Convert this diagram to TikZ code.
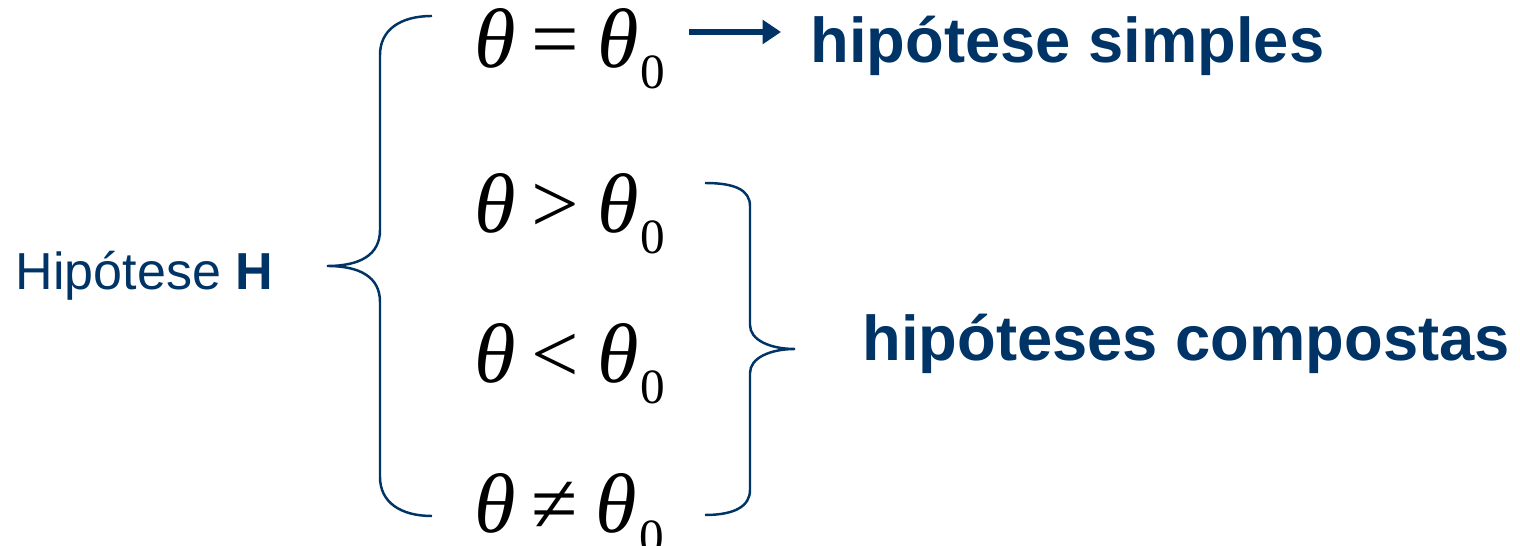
\documentclass[tikz,border=0pt]{standalone}
\usepackage{fontspec}
\setmainfont{Liberation Serif}
\newfontfamily\rotulo{Liberation Sans}
\usetikzlibrary{arrows.meta}
\definecolor{azulesc}{RGB}{0,51,102}

\begin{document}
\begin{tikzpicture}[
    x=0.01cm, y=-0.01cm,
    % --- Styles ---
    eq node/.style={font=\fontsize{24}{28}\selectfont, text=black, inner sep=0pt, anchor=base west},
    % Bold blue labels on the right
    tipo node/.style={font=\rotulo\bfseries\fontsize{18}{22}\selectfont, text=azulesc, inner sep=0pt, anchor=base west},
    main node/.style={font=\rotulo\fontsize{14.8}{18}\selectfont, text=azulesc, inner sep=0pt, anchor=base west},
    chave line/.style={draw=azulesc, line width=0.7pt},
    seta line/.style={draw=azulesc, line width=1.6pt, -{Triangle[length=5.2pt,width=6.6pt]}}
]

%================CONFIGURATION================
% \xeq: left edge of the four hypotheses
\def\xeq{474}
\newcommand{\tth}{\textit{θ}}
\newcommand{\zsub}{\kern0.5pt\raisebox{-5.7pt}{\fontsize{14}{16}\selectfont 0}}
%=============================================

\useasboundingbox (0,0) rectangle (1520,546);

% Hypotheses, one row each (relation / baseline)
\foreach \rel/\yb [count=\c] in {=/68, >/233, </383, ≠/533} {
    \node[eq node] (eq\c) at (\xeq,\yb) {\tth\kern4.5pt\rel\kern5pt\tth\zsub};
}

% Labels
\node[main node] (hip) at (15,290) {Hipótese \textbf{H}};
\node[tipo node] (simples) at (810,63) {hipótese simples};
\node[tipo node] (compostas) at (862,361) {hipóteses compostas};

% Arrow to the simple hypothesis
\coordinate (s0) at (689,32);
\coordinate (s1) at (781,32);
\draw[seta line] (s0) -- (s1);

% Left brace
\draw[chave line] (432,16) .. controls (400,16) and (380,30) .. (380,55)
    -- (380,230) .. controls (380,255) and (360,266) .. (327,266)
    .. controls (360,266) and (380,277) .. (380,302)
    -- (380,477) .. controls (380,502) and (400,516) .. (432,516);

% Right brace
\draw[chave line] (705,183) .. controls (735,183) and (750,190) .. (750,206)
    -- (750,325) .. controls (750,340) and (770,349) .. (795,349)
    .. controls (770,349) and (750,358) .. (750,373)
    -- (750,490) .. controls (750,506) and (735,515) .. (705,515);

\end{tikzpicture}
\end{document}
